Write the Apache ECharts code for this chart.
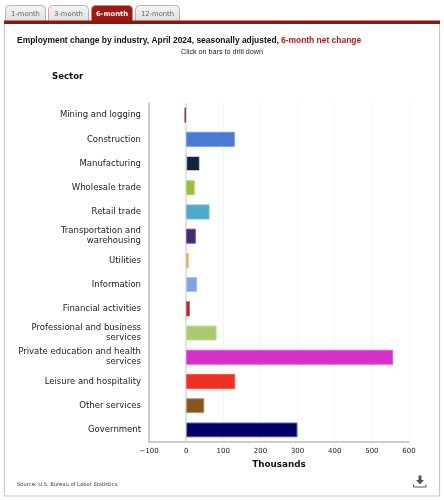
<!DOCTYPE html>
<html>
<head>
<meta charset="utf-8">
<style>html,body{margin:0;padding:0;background:#fff}#c{width:444px;height:500px}</style>
<script src="https://cdn.jsdelivr.net/npm/echarts@6/dist/echarts.min.js"></script>
</head>
<body>
<div id="c"></div>
<script>
const categories = ["Mining and logging","Construction","Manufacturing","Wholesale trade","Retail trade","Transportation and\nwarehousing","Utilities","Information","Financial activities","Professional and business\nservices","Private education and health\nservices","Leisure and hospitality","Other services","Government"];
const values = [-5,131,37,23,63,26,7,30,10,82,557,132,49,300];
const barColors = ["#8f1d21","#4a7bd4","#12233f","#9abd3f","#4fa9cb","#472a6e","#e8a15c","#7fa3e3","#b02a26","#abc96f","#d62fc6","#ee3024","#85561f","#000066"];
const barBorders = ["#c98f90","#6d97e2","#c3c9d3","#b5d06d","#74bdd8","#6b5290","#f2c79c","#b0c7f0","#c86a66","#c6dd96","#e25bd6","#f5564b","#b79a72","#7f7fb3"];
const tabs = [["1-month",5,40,false],["3-month",48,40,false],["6-month",91,41,true],["12-month",135,44,false]];
const font = '"DejaVu Sans", sans-serif';
const arial = '"Liberation Sans", Arial, sans-serif';

const tabGraphics = [];
tabs.forEach(function(t){
  tabGraphics.push({type:'rect',shape:{x:t[1]+0.5,y:5.5,width:t[2],height:16,r:[4,4,0,0]},
    style:{fill:t[3]?'#a01812':new echarts.graphic.LinearGradient(0,0,0,1,[{offset:0,color:'#f6f6f6'},{offset:1,color:'#dedede'}]),stroke:t[3]?'#c98a86':'#d9a5a2',lineWidth:1},z:5});
  tabGraphics.push({type:'text',style:{x:t[1]+t[2]/2+0.5,y:14.5,text:t[0],align:'center',verticalAlign:'middle',
    font:(t[3]?'bold ':'')+'6.8px '+font,fill:t[3]?'#ffffff':'#666666'},z:6});
});

const chart = echarts.init(document.getElementById('c'),null,{renderer:'canvas'});
chart.setOption({
  animation:false,
  backgroundColor:'#ffffff',
  grid:{left:149,right:35,top:103,bottom:58,containLabel:false},
  xAxis:{type:'value',min:-100,max:600,interval:100,
    name:'Thousands',nameLocation:'middle',nameGap:15,
    nameTextStyle:{fontFamily:font,fontWeight:'bold',fontSize:8.8,color:'#111'},
    axisLine:{show:true,onZero:false,lineStyle:{color:'#bdbdbd',width:1.5}},
    axisTick:{show:false},
    axisLabel:{fontFamily:font,fontSize:7,color:'#222',margin:6,showMinLabel:true,showMaxLabel:true,
      formatter:function(v){return v<0?'\u2212'+Math.abs(v):String(v);}},
    splitLine:{show:true,lineStyle:{color:'#e8e8e8',type:'dotted',width:1}}},
  yAxis:{type:'category',inverse:true,data:categories,
    axisLine:{show:true,onZero:false,lineStyle:{color:'#bdbdbd',width:1.5}},
    axisTick:{show:false},
    axisLabel:{fontFamily:font,fontSize:8.5,color:'#222',margin:8,lineHeight:10,align:'right',padding:[5,0,0,0]}},
  series:[{type:'bar',barWidth:15,z:3,
    markLine:{silent:true,symbol:'none',label:{show:false},z:1,
      lineStyle:{color:'#e2e2e2',type:'solid',width:2},data:[{xAxis:0}]},
    data:values.map(function(v,i){return {value:v,itemStyle:{color:barColors[i],borderColor:barBorders[i],borderWidth:Math.abs(v)<15?0.4:1}};})}],
  graphic:{elements:[
    {type:'rect',shape:{x:4.5,y:22,width:435,height:474},style:{fill:'none',stroke:'#c8c8c8',lineWidth:1.2},z:1},
    {type:'rect',shape:{x:4,y:20.5,width:436,height:3.5},style:{fill:'#8f1410'},z:7},
    ...tabGraphics,
    {type:'text',style:{x:17,y:40.5,text:'Employment change by industry, April 2024, seasonally adjusted,',verticalAlign:'middle',font:'bold 8.45px '+arial,fill:'#111'},z:6},
    {type:'text',style:{x:281,y:40.5,text:'6-month net change',verticalAlign:'middle',font:'bold 8.45px '+arial,fill:'#b01c18'},z:6},
    {type:'text',style:{x:222,y:52.5,text:'Click on bars to drill down',align:'center',verticalAlign:'middle',font:'7.2px '+arial,fill:'#222'},z:6},
    {type:'text',style:{x:52,y:77,text:'Sector',verticalAlign:'middle',font:'bold 8.6px '+font,fill:'#111'},z:6},
    {type:'text',style:{x:17,y:484.5,text:'Source: U.S. Bureau of Labor Statistics.',verticalAlign:'middle',font:'5.2px '+font,fill:'#333'},z:6},
    {type:'polygon',shape:{points:[[418.5,475.5],[421.5,475.5],[421.5,480],[424,480],[420,484.5],[416,480],[418.5,480]]},style:{fill:'#555'},z:6},
    {type:'polyline',shape:{points:[[413.5,484.5],[413.5,487],[426,487],[426,484.5]]},style:{fill:'none',stroke:'#555',lineWidth:1},z:6}
  ]}
});
</script>
</body>
</html>
